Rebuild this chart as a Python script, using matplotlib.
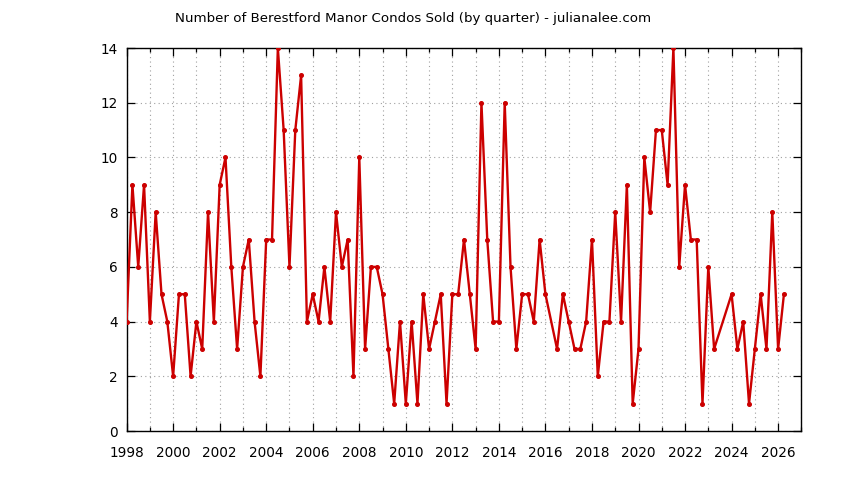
import matplotlib
matplotlib.use("Agg")
import matplotlib.pyplot as plt
from matplotlib.ticker import MultipleLocator

# quarterly sales, first quarter is 1998 Q1; None = quarter with no data point
start_year = 1998
sold = [4, 9, 6, 9, 4, 8, 5, 4, 2, 5, 5, 2, 4, 3, 8, 4,
        9, 10, 6, 3, 6, 7, 4, 2, 7, 7, 14, 11, 6, 11, 13, 4,
        5, 4, 6, 4, 8, 6, 7, 2, 10, 3, 6, 6, 5, 3, 1, 4,
        1, 4, 1, 5, 3, 4, 5, 1, 5, 5, 7, 5, 3, 12, 7, 4,
        4, 12, 6, 3, 5, 5, 4, 7, 5, None, 3, 5, 4, 3, 3, 4,
        7, 2, 4, 4, 8, 4, 9, 1, 3, 10, 8, 11, 11, 9, 14, 6,
        9, 7, 7, 1, 6, 3, None, None, 5, 3, 4, 1, 3, 5, 3, 8,
        3, 5]

years = [start_year + i / 4 for i, v in enumerate(sold) if v is not None]
counts = [v for v in sold if v is not None]

title = "Number of Berestford Manor Condos Sold (by quarter) - julianalee.com"

fig = plt.figure(figsize=(8.44, 4.8), dpi=100)
ax = fig.add_axes([0.150, 0.102, 0.7995, 0.798])

ax.plot(years, counts, color="#cc0000", linewidth=1.7,
        marker="o", markersize=2.6, zorder=3)

ax.set_xlim(1998, 2027)
ax.set_ylim(0, 14)

ax.xaxis.set_major_locator(MultipleLocator(2))
ax.xaxis.set_minor_locator(MultipleLocator(1))
ax.yaxis.set_major_locator(MultipleLocator(2))

ax.tick_params(which="both", direction="in", top=True, right=True,
               labelsize=9.8, color="black")
ax.tick_params(axis="x", pad=10.5)
ax.tick_params(axis="y", pad=6.5)
ax.tick_params(which="major", length=6, width=0.9)
ax.tick_params(which="minor", length=3, width=0.9)

ax.grid(which="both", axis="x", color="#a0a0a0", linestyle=(0, (1, 3)), linewidth=0.8)
ax.grid(which="major", axis="y", color="#a0a0a0", linestyle=(0, (1, 3)), linewidth=0.8)

for s in ax.spines.values():
    s.set_linewidth(1.0)
    s.set_color("black")

fig.text(0.49, 0.962, title, ha="center", va="center", fontsize=9.6)

fig.savefig("out.png", dpi=100)
